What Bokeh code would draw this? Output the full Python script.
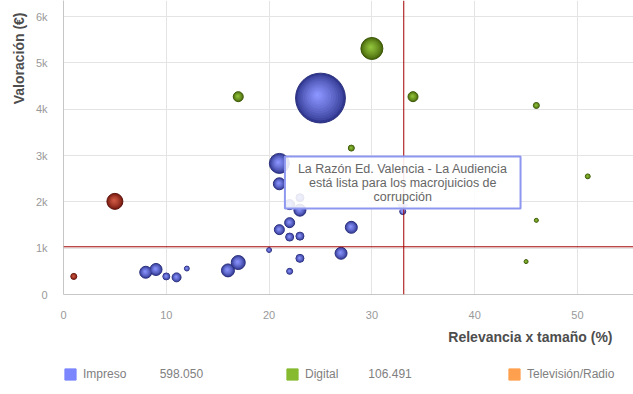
import numpy as np
from bokeh.plotting import figure
from bokeh.layouts import column
from bokeh.models import ColumnDataSource, FixedTicker, Span, Label, Legend, LegendItem, Title
from bokeh.embed import file_html
from bokeh.resources import INLINE

# ---------------- data ----------------
# Impreso (print)
imp_x = [25.0, 21.0, 21.0, 23.0, 22.0, 23.0, 21.0, 22.0, 22.0, 23.0, 20.0, 23.0, 22.0,
         8.0, 9.0, 10.0, 11.0, 12.0, 16.0, 17.0, 28.0, 27.0, 33.0]
imp_y = [4240, 2830, 2390, 1820, 1940, 2090, 1400, 1550, 1240, 1260, 960, 780, 500,
         480, 540, 390, 370, 560, 520, 690, 1450, 890, 1790]
imp_z = [620, 100, 36, 36, 25, 16, 25, 25, 16, 16, 6, 16, 9,
         36, 36, 12, 20, 6, 42, 49, 36, 36, 9]

# Digital
dig_x = [30.0, 34.0, 17.0, 28.0, 46.0, 51.0, 46.0, 45.0]
dig_y = [5310, 4270, 4270, 3160, 4080, 2550, 1600, 710]
dig_z = [121, 25, 25, 9, 9, 6, 4, 4]

# Televisión/Radio
tv_x = [5.0, 1.0]
tv_y = [2010, 390]
tv_z = [64, 9]

x_ticks = [0, 10, 20, 30, 40, 50]
y_ticks = [0, 1000, 2000, 3000, 4000, 5000, 6000]
y_tick_labels = ["0", "1k", "2k", "3k", "4k", "5k", "6k"]

x_title = "Relevancia x tamaño (%)"
y_title = "Valoración (€)"
legend_names = ["Impreso", "Digital", "Televisión/Radio"]
legend_totals = ["598.050", "106.491", ""]
tooltip_text = "La Razón Ed. Valencia - La Audiencia\nestá lista para los macrojuicios de\ncorrupción"
tooltip_index = 22   # the Impreso point the balloon points at
ref_x = 33.1
ref_y = 1030

# ---------------- main figure ----------------
W = 633
H_MAIN, H_LEG = 355, 39
ML, MB = 63, 61
FW, FH = W - ML, H_MAIN - MB
X_MAX = 55.45
Y_MAX = 6346
FONT = "Liberation Sans"

p = figure(width=W, height=H_MAIN, x_range=(0, X_MAX), y_range=(0, Y_MAX),
           output_backend="svg", toolbar_location=None,
           min_border_left=ML, min_border_right=0, min_border_top=0, min_border_bottom=MB)
p.outline_line_color = None
p.background_fill_color = "white"

for ax in (p.xaxis[0], p.yaxis[0]):
    ax.axis_line_color = "#c6c6c6"
    ax.major_tick_line_color = None
    ax.minor_tick_line_color = None
    ax.major_label_text_color = "#999999"
    ax.major_label_text_font = FONT
    ax.major_label_text_font_size = "11px"
p.xaxis.ticker = FixedTicker(ticks=x_ticks)
p.yaxis.ticker = FixedTicker(ticks=y_ticks)
p.yaxis.major_label_overrides = {t: l for t, l in zip(y_ticks, y_tick_labels)}
p.xaxis.major_label_standoff = 10
p.yaxis.major_label_standoff = 10
p.xgrid.ticker = FixedTicker(ticks=x_ticks[1:])
p.xgrid.grid_line_color = "#e4e4e4"
p.ygrid.grid_line_color = "#e4e4e4"

# reference lines
p.add_layout(Span(location=ref_x, dimension="height", line_color="#a30000", line_width=1))
p.add_layout(Span(location=ref_y, dimension="width", line_color="#a30000", line_width=1))


def hex2rgb(h):
    h = h.lstrip("#")
    return np.array([int(h[i:i + 2], 16) for i in (0, 2, 4)], dtype=float)


def mix(c1, c2, t):
    a, b = hex2rgb(c1), hex2rgb(c2)
    c = a + (b - a) * t
    return "#%02x%02x%02x" % tuple(int(round(v)) for v in c)


px_x = FW / X_MAX
px_y = FH / Y_MAX


def bubbles(xs, ys, zs, edge, center, outline, n=12):
    xs = np.array(xs, float)
    ys = np.array(ys, float)
    d = 2 * np.sqrt(np.array(zs, float))
    for i in range(n):
        t = i / (n - 1)
        scale = 1 - 0.93 * t
        col = mix(edge, center, t ** 0.75)
        off = 0.12 * (d / 2) * t
        src = ColumnDataSource(dict(x=xs - off / px_x, y=ys + off / px_y, s=d * scale))
        if i == 0:
            p.scatter("x", "y", size="s", source=src, fill_color=col,
                      line_color=outline, line_width=1)
        else:
            p.scatter("x", "y", size="s", source=src, fill_color=col, line_color=None)


bubbles(imp_x, imp_y, imp_z, "#30378f", "#8b95ff", "#2a2f7c")
bubbles(dig_x, dig_y, dig_z, "#46650b", "#92c43c", "#3b5608")
bubbles(tv_x, tv_y, tv_z, "#74180f", "#d05a44", "#5c120b")

# tooltip balloon
tx, ty = imp_x[tooltip_index], imp_y[tooltip_index]
p.scatter(x=[tx], y=[ty + 4 / px_y], marker="inverted_triangle", size=10,
          fill_color="#8e97f0", line_color="#8e97f0")
p.add_layout(Label(x=tx, y=ty, y_offset=29, text=tooltip_text,
                   text_align="center", text_baseline="middle",
                   text_font=FONT, text_font_size="12.5px", text_color="#666666",
                   text_line_height=1.0,
                   background_fill_color="white", background_fill_alpha=0.88,
                   border_line_color="#8e97f0", border_line_width=2,
                   padding=(13, 5)))

# axis titles (side panels)
p.add_layout(Title(text=y_title, align="right", offset=12, standoff=12,
                   text_font=FONT, text_font_size="14px", text_font_style="bold",
                   text_color="#4d4d4d"), "left")
p.add_layout(Title(text=x_title, align="right", offset=21, standoff=10,
                   text_font=FONT, text_font_size="14px", text_font_style="bold",
                   text_color="#4d4d4d"), "below")

# ---------------- legend strip ----------------
lf = figure(width=W, height=H_LEG, x_range=(0, W), y_range=(0, H_LEG),
            output_backend="svg", toolbar_location=None,
            x_axis_type=None, y_axis_type=None,
            min_border_left=0, min_border_right=0, min_border_top=0, min_border_bottom=0)
lf.outline_line_color = None
lf.xgrid.visible = False
lf.ygrid.visible = False

legend_colors = ["#7b86ff", "#86bb2f", "#ffa04f"]
gaps = [10, 9, 0]
items = []
for name, total, col, g in zip(legend_names, legend_totals, legend_colors, gaps):
    r = lf.rect(x=np.array([np.nan]), y=np.array([np.nan]), width=1, height=1,
                fill_color=col, line_color=col)
    lab = name + ("\u00a0" * g + total if total else "")
    items.append(LegendItem(label=lab, renderers=[r]))
lg = Legend(items=items, location=(0, 13), orientation="horizontal",
            glyph_width=14, glyph_height=14, label_standoff=6, label_height=14,
            label_width=197, spacing=5,
            label_text_font=FONT, label_text_font_size="12px", label_text_color="#808080",
            padding=0, margin=0, border_line_color=None, background_fill_alpha=0)
lf.add_layout(lg)

page = column(p, lf, spacing=0)
open("out.html", "w").write(file_html(page, INLINE))
